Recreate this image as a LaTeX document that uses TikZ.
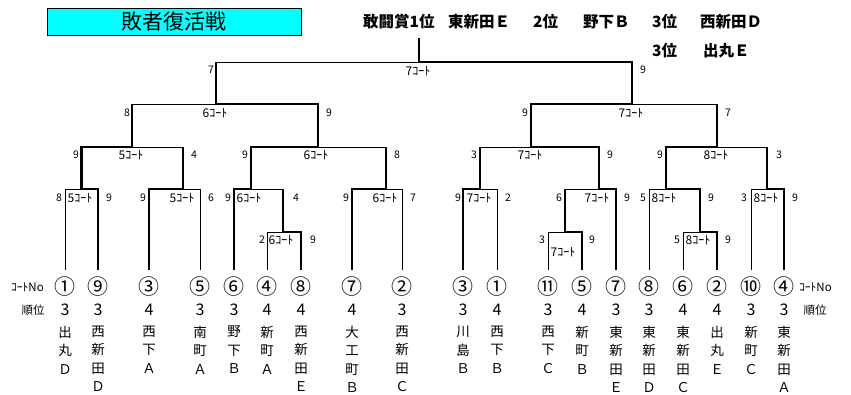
\documentclass[tikz,border=0pt]{standalone}
\usepackage{fontspec}
\newfontfamily\jp{Noto Sans CJK JP}
\definecolor{titlecyan}{RGB}{0,255,255}
\begin{document}
\begin{tikzpicture}[x=1pt,y=-1pt,
  lose/.style={line width=0.9pt},
  win/.style={line width=2.4pt,line join=miter},
  sc/.style={font=\jp\fontsize{10.5}{12}\selectfont,inner sep=0pt},
  ct/.style={font=\jp\fontsize{12}{14}\selectfont,inner sep=0pt},
  hd/.style={font=\jp\bfseries\fontsize{15.5}{18}\selectfont,inner sep=0pt,anchor=west},
  circ/.style={font=\jp\fontsize{21}{24}\selectfont,inner sep=0pt},
  rank/.style={font=\jp\fontsize{16}{18}\selectfont,inner sep=0pt},
  nm/.style={font=\jp\fontsize{13.5}{18.3}\selectfont,inner sep=0pt,align=center,anchor=north},
  side/.style={font=\jp\fontsize{11.5}{12}\selectfont,inner sep=0pt}]
\useasboundingbox (0,0) rectangle (851,394);
% title
\node[draw,line width=1pt,fill=titlecyan,minimum width=254pt,minimum height=27pt,inner sep=0pt,
  font=\jp\fontsize{21}{24}\selectfont] (title) at (174,21.5) {敗者復活戦};
% header
\node[hd] (h1) at (363,22) {敢闘賞1位};
\node[hd] (h2) at (448,22) {東新田Ｅ};
\node[hd] (h3) at (533,22) {2位};
\node[hd] (h4) at (583,22) {野下Ｂ};
\node[hd] (h5) at (652,22) {3位};
\node[hd] (h6) at (700,22) {西新田Ｄ};
\node[hd] (h7) at (652,51) {3位};
\node[hd] (h8) at (703,51) {出丸Ｅ};
% losing lines
\draw[lose] (65,270)--(65,189)--(81.5,189);
\draw[lose] (183,189)--(200,189)--(200,270);
\draw[lose] (132,147)--(183,147);
\draw[lose] (216,62)--(419,62);
\draw[lose] (132,104)--(216,104);
\draw[lose] (251,189)--(283,189);
\draw[lose] (267,270)--(267,232)--(283,232);
\draw[lose] (386,189)--(402,189)--(402,270);
\draw[lose] (318,147)--(386,147);
\draw[lose] (480,147)--(531,147);
\draw[lose] (480,189)--(497,189)--(497,270);
\draw[lose] (548,270)--(548,232)--(565,232);
\draw[lose] (565,189)--(599,189);
\draw[lose] (632,104)--(717,104);
\draw[lose] (649,270)--(649,189)--(666,189);
\draw[lose] (683,270)--(683,232)--(700,232);
\draw[lose] (717,147)--(767,147);
\draw[lose] (751,270)--(751,189)--(767,189);
% winning runs
\draw[win] (616,270)--(616,189)--(599,189)--(599,147)--(531,147)--(531,104)--(632,104)--(632,62)--(419,62)--(419,38);
\draw[win] (234,270)--(234,189)--(251,189)--(251,147)--(318,147)--(318,104)--(216,104)--(216,62);
\draw[win] (98,270)--(98,189)--(81.5,189)--(81.5,147)--(132,147)--(132,104);
\draw[win] (149,270)--(149,189)--(183,189)--(183,147);
\draw[win] (301,270)--(301,232)--(283,232)--(283,189);
\draw[win] (352,270)--(352,189)--(386,189)--(386,147);
\draw[win] (463,270)--(463,189)--(480,189)--(480,147);
\draw[win] (582,270)--(582,232)--(565,232)--(565,189);
\draw[win] (717,270)--(717,232)--(700,232)--(700,189)--(666,189)--(666,147)--(717,147)--(717,104);
\draw[win] (784,270)--(784,189)--(767,189)--(767,147);
% scores
\foreach \x/\y/\t [count=\i] in {
  211/70/7, 643/70/9,
  127/113/8, 329/113/9, 525/113/9, 728/113/7,
  76/155/9, 194/155/4, 245/155/9, 397/155/8, 474/155/3, 610/155/9, 660/155/9, 779/155/3,
  59/198/8, 109/198/9, 143/198/9, 211/198/6, 228/198/9, 296/198/4, 346/198/9, 413/198/7,
  458/198/9, 508/198/2, 559/198/6, 627/198/9, 643/198/5, 711/198/9, 744/198/3, 795/198/9,
  262/240/2, 313/240/9, 542/240/3, 592/240/9, 677/240/5, 728/240/9}
  \node[sc] (s\i) at (\x,\y) {\t};
% court labels
\foreach \x/\y/\t [count=\i] in {
  418/71/7, 215/113/6, 631/113/7,
  131/155/5, 316/155/6, 530/155/7, 716/155/8,
  80/198/5, 182/198/5, 249/198/6, 385/198/6, 479/198/7, 597/198/7, 664/198/8, 766/198/8,
  281/240/6, 563/252/7, 698/240/8}
  \node[ct] (c\i) at (\x,\y) {\t ｺｰﾄ};
% side labels
\node[side] (lno) at (27.5,287) {ｺｰﾄNo};
\node[side] (lrk) at (33,310) {順位};
\node[side] (rno) at (815.5,287) {ｺｰﾄNo};
\node[side] (rrk) at (815,310) {順位};
% leaves
\foreach \x/\c/\r/\n [count=\i] in {
  65/①/3/{出\\丸\\Ｄ}, 98/⑨/3/{西\\新\\田\\Ｄ}, 149/③/4/{西\\下\\Ａ}, 200/⑤/3/{南\\町\\Ａ},
  234/⑥/3/{野\\下\\Ｂ}, 267/④/4/{新\\町\\Ａ}, 301/⑧/4/{西\\新\\田\\Ｅ}, 352/⑦/4/{大\\工\\町\\Ｂ},
  402/②/3/{西\\新\\田\\Ｃ}, 463/③/3/{川\\島\\Ｂ}, 497/①/4/{西\\下\\Ｂ}, 548/⑪/3/{西\\下\\Ｃ},
  582/⑤/4/{新\\町\\Ｂ}, 616/⑦/3/{東\\新\\田\\Ｅ}, 649/⑧/3/{東\\新\\田\\Ｄ}, 683/⑥/4/{東\\新\\田\\Ｃ},
  717/②/4/{出\\丸\\Ｅ}, 751/⑩/3/{新\\町\\Ｃ}, 784/④/3/{東\\新\\田\\Ａ}}
{
  \node[circ] (k\i) at (\x,287) {\c};
  \node[rank] (r\i) at (\x,310) {\r};
  \node[nm] (n\i) at (\x,326) {\n};
}
\end{tikzpicture}
\end{document}
